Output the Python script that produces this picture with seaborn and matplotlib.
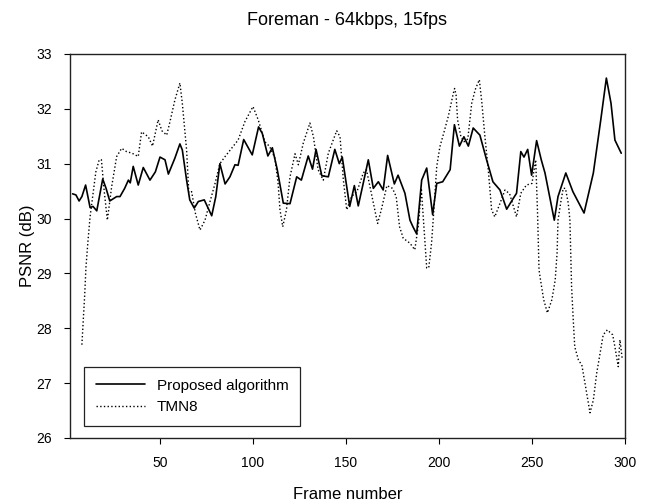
import numpy as np
import pandas as pd
import seaborn as sns
from matplotlib import pyplot as plt

# values (frame number, PSNR in dB)
prop_frame = [3, 4.8, 6.5, 8, 10, 12.4, 14, 16, 19.2, 21, 23, 26.7, 28.5, 31, 33, 34, 35.6,
              38.3, 41, 44.6, 47.5, 50, 52.7, 54.5, 58, 60.7, 62, 64.3, 66, 68.4, 70.6, 73.8,
              77.8, 80, 82.2, 85, 87.6, 90.3, 92, 95, 99.6, 103, 105, 108, 110.4, 113, 116.3,
              119.9, 123.5, 126, 129.7, 132, 133.9, 137, 140.5, 144, 146.4, 148, 152, 154.5,
              156.6, 159, 162, 164.7, 167.4, 170, 172.4, 176, 178, 181.7, 184.4, 186, 188,
              190.7, 193.4, 196.6, 198.8, 202, 206, 208.3, 211, 213.4, 215.8, 218.4, 222,
              225.6, 229, 232.8, 236.4, 240, 241.7, 244, 245.7, 247.7, 249.8, 252.5, 255, 257,
              262, 264, 268.2, 272, 278, 283, 287, 290, 292.5, 294.6, 298]
prop_psnr = [30.45, 30.43, 30.32, 30.4, 30.61, 30.2, 30.22, 30.14, 30.72, 30.55, 30.32, 30.4,
             30.4, 30.55, 30.7, 30.65, 30.95, 30.61, 30.93, 30.7, 30.85, 31.12, 31.07, 30.81,
             31.1, 31.36, 31.25, 30.7, 30.34, 30.19, 30.31, 30.34, 30.05, 30.4, 31.0, 30.63,
             30.76, 30.98, 30.97, 31.44, 31.16, 31.67, 31.55, 31.14, 31.29, 30.9, 30.28, 30.27,
             30.76, 30.7, 31.14, 30.9, 31.26, 30.78, 30.76, 31.26, 31.0, 31.12, 30.22, 30.6,
             30.23, 30.6, 31.07, 30.55, 30.67, 30.52, 31.15, 30.63, 30.79, 30.46, 29.97, 29.85,
             29.72, 30.7, 30.92, 30.07, 30.64, 30.67, 30.89, 31.71, 31.32, 31.49, 31.32, 31.65,
             31.52, 31.07, 30.67, 30.52, 30.17, 30.37, 30.46, 31.22, 31.12, 31.26, 30.79, 31.42,
             31.07, 30.83, 29.97, 30.4, 30.83, 30.49, 30.1, 30.83, 31.8, 32.56, 32.1, 31.43,
             31.19]

tmn_frame = [8, 9.5, 10.2, 11.3, 12.4, 14, 15.5, 17.3, 18.5, 20, 21.7, 24, 26.7, 29.4, 32, 35,
             38.3, 40.1, 43.7, 46, 49, 51, 53.6, 55.4, 58, 60.7, 62, 64.3, 65.5, 67, 69, 71.5,
             74.2, 76.9, 79.6, 82.2, 85, 88.5, 92, 95.7, 100, 102.8, 106.4, 109, 111.8, 113.5,
             114.5, 116, 118, 119.9, 122.6, 124.4, 127, 130.6, 132.5, 135, 137.8, 140.5, 145,
             146.8, 148.6, 150.4, 153, 156, 159.3, 161, 164.7, 167, 169, 172, 175, 177, 178.8,
             180.8, 184.4, 187, 189, 190.5, 191.8, 193.4, 194.5, 196, 197, 198.8, 200.5, 202.5,
             205, 207.7, 208.4, 209.2, 210, 211.8, 213.5, 215.5, 217.6, 219.5, 221.7, 223,
             224.7, 226.5, 228.3, 230, 232.5, 235.5, 238, 240, 241.7, 244, 247, 250, 252, 253,
             253.8, 254.6, 256.3, 258.3, 260.7, 262.5, 263.5, 264, 265.5, 266.8, 268, 269.5,
             270.4, 271.3, 272.2, 273, 275, 276.8, 278.5, 281.2, 283, 284.8, 286.6, 288.3,
             290.5, 293.4, 294.6, 296.4, 297.3, 298.5]
tmn_psnr = [27.7, 28.6, 29.12, 29.6, 30.03, 30.46, 30.85, 31.07, 31.07, 30.5, 29.97, 30.58,
            31.13, 31.28, 31.22, 31.19, 31.13, 31.58, 31.49, 31.32, 31.8, 31.6, 31.52, 31.77,
            32.16, 32.47, 32.1, 31.25, 30.47, 30.49, 30.1, 29.79, 29.97, 30.31, 30.64, 31.0,
            31.13, 31.28, 31.43, 31.77, 32.04, 31.8, 31.4, 31.31, 31.1, 30.64, 30.16, 29.85,
            30.16, 30.76, 31.18, 30.98, 31.37, 31.74, 31.49, 30.89, 30.7, 31.19, 31.6, 31.49,
            30.7, 30.16, 30.4, 30.5, 30.83, 30.89, 30.28, 29.91, 30.16, 30.6, 30.55, 30.4,
            29.85, 29.64, 29.55, 29.43, 29.9, 30.55, 29.9, 29.1, 29.1, 29.55, 30.03, 30.95,
            31.31, 31.55, 31.86, 32.28, 32.37, 32.25, 31.8, 31.49, 31.4, 31.45, 32.1, 32.35,
            32.53, 32.13, 31.49, 30.89, 30.16, 30.03, 30.25, 30.52, 30.45, 30.22, 30.03, 30.46,
            30.61, 30.64, 31.07, 30.1, 29.06, 28.88, 28.52, 28.28, 28.52, 28.88, 29.37, 29.97,
            30.3, 30.55, 30.55, 30.28, 29.97, 28.76, 28.15, 27.66, 27.42, 27.33, 27.0, 26.46,
            26.69, 27.18, 27.54, 27.88, 27.97, 27.88, 27.66, 27.3, 27.79, 27.45]

sns.set_style("ticks")
plt.rcParams['font.family'] = ['Liberation Sans', 'DejaVu Sans']
plt.rcParams['text.color'] = 'black'
plt.rcParams['axes.labelcolor'] = 'black'
plt.rcParams['xtick.color'] = 'black'
plt.rcParams['ytick.color'] = 'black'

prop_df = pd.DataFrame({'frame': prop_frame, 'psnr': prop_psnr})
tmn_df = pd.DataFrame({'frame': tmn_frame, 'psnr': tmn_psnr})

fig = plt.figure(figsize=(6.51, 5.04), dpi=100)
ax = fig.add_axes([0.1075, 0.131, 0.8525, 0.762])

sns.lineplot(x='frame', y='psnr', data=prop_df, color='black', linewidth=1.2,
             sort=False, label='Proposed algorithm', ax=ax)
sns.lineplot(x='frame', y='psnr', data=tmn_df, color='black', linewidth=1.0,
             linestyle=':', sort=False, label='TMN8', ax=ax)

ax.set_xlim(1.6, 300)
ax.set_ylim(26, 33)
ax.set_xticks([50, 100, 150, 200, 250, 300])
ax.set_yticks(range(26, 34))
ax.tick_params(labelsize=10, length=4, width=0.8, pad=9)
for s in ax.spines.values():
    s.set_color('#222222')
    s.set_linewidth(1.0)

ax.set_title('Foreman - 64kbps, 15fps', fontsize=13, pad=21)
ax.set_xlabel('Frame number', fontsize=12, labelpad=12)
ax.set_ylabel('PSNR (dB)', fontsize=12, labelpad=1)

leg = ax.legend(loc='lower left', fontsize=11, fancybox=False, framealpha=1,
                edgecolor='#222222', handlelength=3.2, borderpad=0.75,
                bbox_to_anchor=(0.012, 0.012))
leg.get_frame().set_linewidth(0.9)

fig.savefig('out.png', dpi=100)
